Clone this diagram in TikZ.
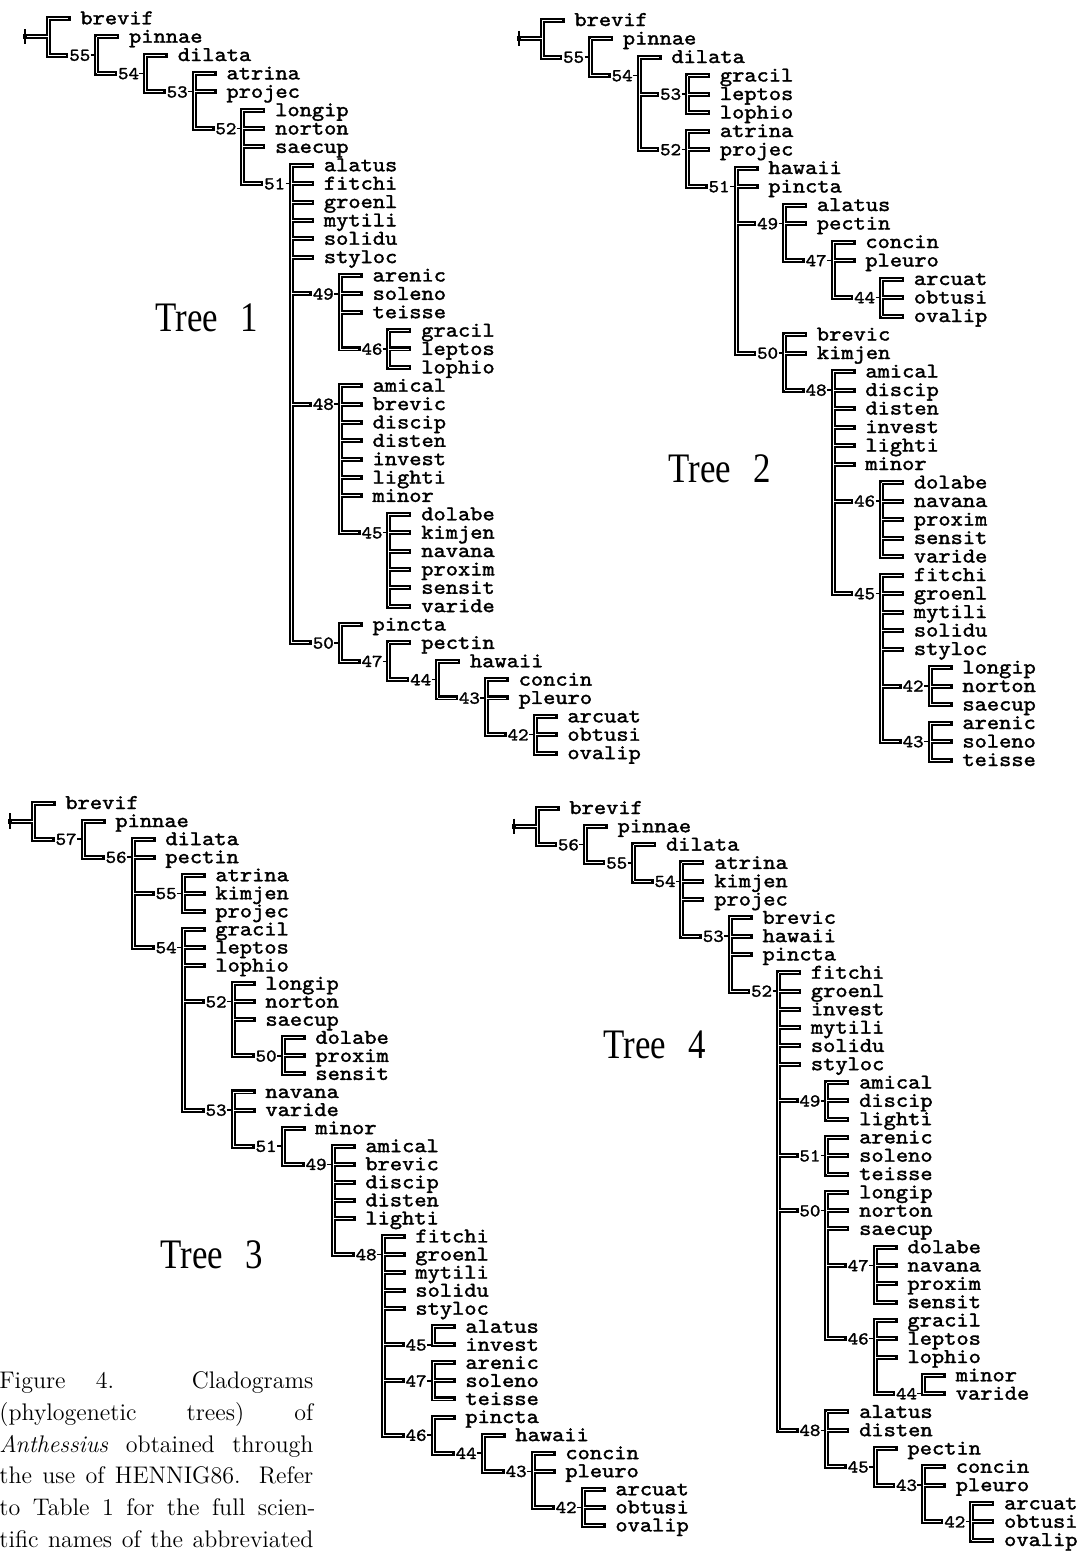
\documentclass[tikz,border=0pt]{standalone}
\usepackage{fontspec}
\usepackage{graphicx}
\newfontfamily\trfont{Liberation Serif}
\newfontfamily\cladfont{lmmono10-regular.otf}[FakeBold=1.6]
\def\cmode{0}
\newcommand\sx[1]{\scalebox{1.11}[1]{#1}}
\tikzset{
  leaf/.style={anchor=west, inner sep=0pt, font=\cladfont\fontsize{10.5}{10.5}\selectfont, text height=8.5pt, text depth=2.5pt},
  lab/.style={anchor=east, inner sep=0pt, font=\cladfont\fontsize{9}{9}\selectfont, text height=6.2pt, text depth=0.5pt},
  brblack/.style={line width=2.5pt, line cap=rect},
  brwhite/.style={line width=0.45pt, white},
  tickln/.style={line width=0.7pt},
  treelab/.style={anchor=base west, inner sep=0pt, font=\trfont\fontsize{21}{21}\selectfont},
  capline/.style={anchor=base west, inner sep=0pt, font=\fontsize{12}{14}\selectfont},
}
% leaf
\newcommand\lf[3]{%
  \ifcase\cmode\relax
    \node[leaf] (\tp-#3) at ([xshift=16pt]#1,#2) {\sx{#3}};%
  \or
    \draw[brblack] (#1,#2) -- ([xshift=-6pt]\tp-#3.west);%
  \or
    \draw[brwhite] (#1,#2) -- ([xshift=-6pt]\tp-#3.west);%
  \fi}
% internal child
\newcommand\ic[3]{%
  \ifcase\cmode\relax
    \node[lab] (\tp-#3) at ([xshift=-3pt]#1+1,#2) {\sx{#3}};%
  \or
    \draw[brblack] (#1,#2) -- ([xshift=-1.5pt]\tp-#3.west);%
    \draw[tickln] (\tp-#3.east) -- (#1+1,#2);%
  \or
    \draw[brwhite] (#1,#2) -- ([xshift=-1.5pt]\tp-#3.west);%
  \fi}
% vertical bar
\newcommand\vb[3]{%
  \ifcase\cmode\relax
  \or
    \draw[brblack] (#1,#2) -- (#1,#3);%
  \or
    \draw[brwhite] (#1,#2) -- (#1,#3);%
  \fi}
% root
\newcommand\rt{%
  \ifcase\cmode\relax
    \coordinate (\tp-root) at ([xshift=-11.5pt]0,1);%
  \or
    \draw[brblack] (\tp-root) -- (0,1);%
    \draw[line width=1.4pt] ([yshift=3.8pt]\tp-root) -- ([yshift=-3.8pt]\tp-root);%
  \or
    \draw[brwhite] ([xshift=1pt]\tp-root) -- (0,1);%
  \fi}
\newcommand\runtree[6]{\begin{scope}[shift={(#2,#3)},x=#4,y=#5]\def\tp{#1}#6\end{scope}}

\newcommand\treeA{%
 \rt \vb{0}{0}{2} \lf{0}{0}{brevif} \ic{0}{2}{55}
 \vb{1}{1}{3} \lf{1}{1}{pinnae} \ic{1}{3}{54}
 \vb{2}{2}{4} \lf{2}{2}{dilata} \ic{2}{4}{53}
 \vb{3}{3}{6} \lf{3}{3}{atrina} \lf{3}{4}{projec} \ic{3}{6}{52}
 \vb{4}{5}{9} \lf{4}{5}{longip} \lf{4}{6}{norton} \lf{4}{7}{saecup} \ic{4}{9}{51}
 \vb{5}{8}{34} \lf{5}{8}{alatus} \lf{5}{9}{fitchi} \lf{5}{10}{groenl} \lf{5}{11}{mytili}
   \lf{5}{12}{solidu} \lf{5}{13}{styloc} \ic{5}{15}{49} \ic{5}{21}{48} \ic{5}{34}{50}
 \vb{6}{14}{18} \lf{6}{14}{arenic} \lf{6}{15}{soleno} \lf{6}{16}{teisse} \ic{6}{18}{46}
 \vb{7}{17}{19} \lf{7}{17}{gracil} \lf{7}{18}{leptos} \lf{7}{19}{lophio}
 \vb{6}{20}{28} \lf{6}{20}{amical} \lf{6}{21}{brevic} \lf{6}{22}{discip} \lf{6}{23}{disten}
   \lf{6}{24}{invest} \lf{6}{25}{lighti} \lf{6}{26}{minor} \ic{6}{28}{45}
 \vb{7}{27}{32} \lf{7}{27}{dolabe} \lf{7}{28}{kimjen} \lf{7}{29}{navana} \lf{7}{30}{proxim}
   \lf{7}{31}{sensit} \lf{7}{32}{varide}
 \vb{6}{33}{35} \lf{6}{33}{pincta} \ic{6}{35}{47}
 \vb{7}{34}{36} \lf{7}{34}{pectin} \ic{7}{36}{44}
 \vb{8}{35}{37} \lf{8}{35}{hawaii} \ic{8}{37}{43}
 \vb{9}{36}{39} \lf{9}{36}{concin} \lf{9}{37}{pleuro} \ic{9}{39}{42}
 \vb{10}{38}{40} \lf{10}{38}{arcuat} \lf{10}{39}{obtusi} \lf{10}{40}{ovalip}
}
\newcommand\treeB{%
 \rt \vb{0}{0}{2} \lf{0}{0}{brevif} \ic{0}{2}{55}
 \vb{1}{1}{3} \lf{1}{1}{pinnae} \ic{1}{3}{54}
 \vb{2}{2}{7} \lf{2}{2}{dilata} \ic{2}{4}{53} \ic{2}{7}{52}
 \vb{3}{3}{5} \lf{3}{3}{gracil} \lf{3}{4}{leptos} \lf{3}{5}{lophio}
 \vb{3}{6}{9} \lf{3}{6}{atrina} \lf{3}{7}{projec} \ic{3}{9}{51}
 \vb{4}{8}{18} \lf{4}{8}{hawaii} \lf{4}{9}{pincta} \ic{4}{11}{49} \ic{4}{18}{50}
 \vb{5}{10}{13} \lf{5}{10}{alatus} \lf{5}{11}{pectin} \ic{5}{13}{47}
 \vb{6}{12}{15} \lf{6}{12}{concin} \lf{6}{13}{pleuro} \ic{6}{15}{44}
 \vb{7}{14}{16} \lf{7}{14}{arcuat} \lf{7}{15}{obtusi} \lf{7}{16}{ovalip}
 \vb{5}{17}{20} \lf{5}{17}{brevic} \lf{5}{18}{kimjen} \ic{5}{20}{48}
 \vb{6}{19}{31} \lf{6}{19}{amical} \lf{6}{20}{discip} \lf{6}{21}{disten} \lf{6}{22}{invest}
   \lf{6}{23}{lighti} \lf{6}{24}{minor} \ic{6}{26}{46} \ic{6}{31}{45}
 \vb{7}{25}{29} \lf{7}{25}{dolabe} \lf{7}{26}{navana} \lf{7}{27}{proxim} \lf{7}{28}{sensit} \lf{7}{29}{varide}
 \vb{7}{30}{39} \lf{7}{30}{fitchi} \lf{7}{31}{groenl} \lf{7}{32}{mytili} \lf{7}{33}{solidu}
   \lf{7}{34}{styloc} \ic{7}{36}{42} \ic{7}{39}{43}
 \vb{8}{35}{37} \lf{8}{35}{longip} \lf{8}{36}{norton} \lf{8}{37}{saecup}
 \vb{8}{38}{40} \lf{8}{38}{arenic} \lf{8}{39}{soleno} \lf{8}{40}{teisse}
}
\newcommand\treeC{%
 \rt \vb{0}{0}{2} \lf{0}{0}{brevif} \ic{0}{2}{57}
 \vb{1}{1}{3} \lf{1}{1}{pinnae} \ic{1}{3}{56}
 \vb{2}{2}{8} \lf{2}{2}{dilata} \lf{2}{3}{pectin} \ic{2}{5}{55} \ic{2}{8}{54}
 \vb{3}{4}{6} \lf{3}{4}{atrina} \lf{3}{5}{kimjen} \lf{3}{6}{projec}
 \vb{3}{7}{17} \lf{3}{7}{gracil} \lf{3}{8}{leptos} \lf{3}{9}{lophio} \ic{3}{11}{52} \ic{3}{17}{53}
 \vb{4}{10}{14} \lf{4}{10}{longip} \lf{4}{11}{norton} \lf{4}{12}{saecup} \ic{4}{14}{50}
 \vb{5}{13}{15} \lf{5}{13}{dolabe} \lf{5}{14}{proxim} \lf{5}{15}{sensit}
 \vb{4}{16}{19} \lf{4}{16}{navana} \lf{4}{17}{varide} \ic{4}{19}{51}
 \vb{5}{18}{20} \lf{5}{18}{minor} \ic{5}{20}{49}
 \vb{6}{19}{25} \lf{6}{19}{amical} \lf{6}{20}{brevic} \lf{6}{21}{discip} \lf{6}{22}{disten}
   \lf{6}{23}{lighti} \ic{6}{25}{48}
 \vb{7}{24}{35} \lf{7}{24}{fitchi} \lf{7}{25}{groenl} \lf{7}{26}{mytili} \lf{7}{27}{solidu}
   \lf{7}{28}{styloc} \ic{7}{30}{45} \ic{7}{32}{47} \ic{7}{35}{46}
 \vb{8}{29}{30} \lf{8}{29}{alatus} \lf{8}{30}{invest}
 \vb{8}{31}{33} \lf{8}{31}{arenic} \lf{8}{32}{soleno} \lf{8}{33}{teisse}
 \vb{8}{34}{36} \lf{8}{34}{pincta} \ic{8}{36}{44}
 \vb{9}{35}{37} \lf{9}{35}{hawaii} \ic{9}{37}{43}
 \vb{10}{36}{39} \lf{10}{36}{concin} \lf{10}{37}{pleuro} \ic{10}{39}{42}
 \vb{11}{38}{40} \lf{11}{38}{arcuat} \lf{11}{39}{obtusi} \lf{11}{40}{ovalip}
}
\newcommand\treeD{%
 \rt \vb{0}{0}{2} \lf{0}{0}{brevif} \ic{0}{2}{56}
 \vb{1}{1}{3} \lf{1}{1}{pinnae} \ic{1}{3}{55}
 \vb{2}{2}{4} \lf{2}{2}{dilata} \ic{2}{4}{54}
 \vb{3}{3}{7} \lf{3}{3}{atrina} \lf{3}{4}{kimjen} \lf{3}{5}{projec} \ic{3}{7}{53}
 \vb{4}{6}{10} \lf{4}{6}{brevic} \lf{4}{7}{hawaii} \lf{4}{8}{pincta} \ic{4}{10}{52}
 \vb{5}{9}{34} \lf{5}{9}{fitchi} \lf{5}{10}{groenl} \lf{5}{11}{invest} \lf{5}{12}{mytili}
   \lf{5}{13}{solidu} \lf{5}{14}{styloc} \ic{5}{16}{49} \ic{5}{19}{51} \ic{5}{22}{50} \ic{5}{34}{48}
 \vb{6}{15}{17} \lf{6}{15}{amical} \lf{6}{16}{discip} \lf{6}{17}{lighti}
 \vb{6}{18}{20} \lf{6}{18}{arenic} \lf{6}{19}{soleno} \lf{6}{20}{teisse}
 \vb{6}{21}{29} \lf{6}{21}{longip} \lf{6}{22}{norton} \lf{6}{23}{saecup} \ic{6}{25}{47} \ic{6}{29}{46}
 \vb{7}{24}{27} \lf{7}{24}{dolabe} \lf{7}{25}{navana} \lf{7}{26}{proxim} \lf{7}{27}{sensit}
 \vb{7}{28}{32} \lf{7}{28}{gracil} \lf{7}{29}{leptos} \lf{7}{30}{lophio} \ic{7}{32}{44}
 \vb{8}{31}{32} \lf{8}{31}{minor} \lf{8}{32}{varide}
 \vb{6}{33}{36} \lf{6}{33}{alatus} \lf{6}{34}{disten} \ic{6}{36}{45}
 \vb{7}{35}{37} \lf{7}{35}{pectin} \ic{7}{37}{43}
 \vb{8}{36}{39} \lf{8}{36}{concin} \lf{8}{37}{pleuro} \ic{8}{39}{42}
 \vb{9}{38}{40} \lf{9}{38}{arcuat} \lf{9}{39}{obtusi} \lf{9}{40}{ovalip}
}
\newcommand\alltrees{%
  \runtree{A}{48}{18.3}{24.35pt}{-9.185pt}{\treeA}%
  \runtree{B}{542}{20}{24.25pt}{-9.25pt}{\treeB}%
  \runtree{C}{33}{803}{25pt}{-9.03pt}{\treeC}%
  \runtree{D}{537}{808}{24.15pt}{-9.15pt}{\treeD}%
}

\begin{document}
\begin{tikzpicture}[x=0.5pt,y=-0.5pt]
\useasboundingbox (0,0) rectangle (1077,1553);
\fill[white] (0,0) rectangle (1077,1553);
\def\cmode{0}\alltrees
\def\cmode{1}\alltrees
\def\cmode{2}\alltrees
% tree titles
\node[treelab] (title1) at (155,331) {\scalebox{0.83}[1]{Tree\hspace{8pt} 1}};
\node[treelab] (title2) at (668,482) {\scalebox{0.83}[1]{Tree\hspace{8pt} 2}};
\node[treelab] (title3) at (160,1268) {\scalebox{0.83}[1]{Tree\hspace{8pt} 3}};
\node[treelab] (title4) at (603,1058) {\scalebox{0.83}[1]{Tree\hspace{8pt} 4}};
% caption
\node[capline] (cap1) at (-1,1388) {\makebox[157pt][s]{Figure 4. Cladograms}};
\node[capline] (cap2) at (-1,1420) {\makebox[157pt][s]{(phylogenetic trees) of}};
\node[capline] (cap3) at (-1,1452) {\makebox[157pt][s]{\textit{Anthessius} obtained through}};
\node[capline] (cap4) at (-1,1483) {\makebox[157pt][s]{the use of HENNIG86. Refer}};
\node[capline] (cap5) at (-1,1515) {\makebox[158pt][s]{to Table 1 for the full scien-}};
\node[capline] (cap6) at (-1,1547) {\makebox[157pt][s]{tific names of the abbreviated}};
\end{tikzpicture}
\end{document}
